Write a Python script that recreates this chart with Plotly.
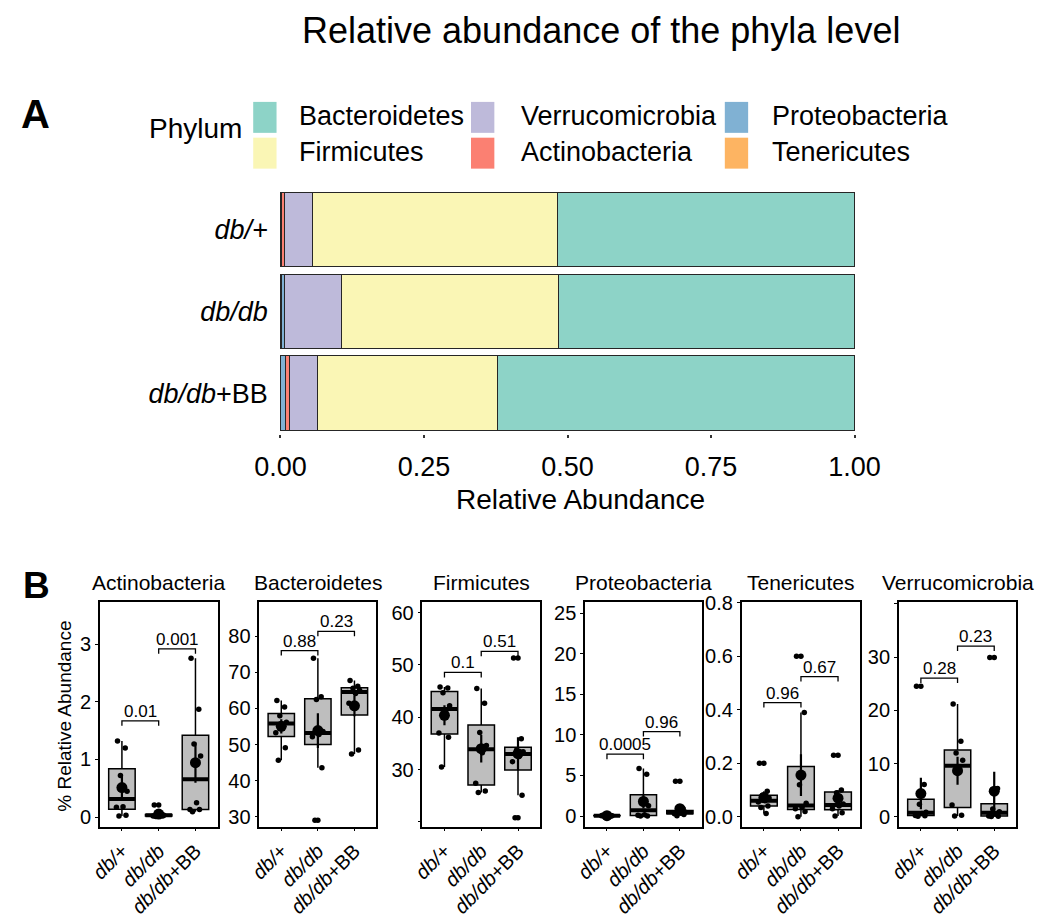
import numpy as np
import plotly.graph_objects as go

W, H = 1050, 918

# ---------------- panel A data ----------------
GROUPS = ["db/+", "db/db", "db/db+BB"]
GROUP_TEXT = ["<i>db/+</i>", "<i>db/db</i>", "<i>db/db</i>+BB"]

# mean relative abundance per group (stacked left -> right)
tenericutes = [0.0006, 0.0012, 0.0010]
proteobacteria = [0.0010, 0.0055, 0.0070]
actinobacteria = [0.0050, 0.0005, 0.0085]
verrucomicrobia = [0.0500, 0.0990, 0.0480]
firmicutes = [0.4260, 0.3780, 0.3130]
bacteroidetes = [0.5174, 0.5158, 0.6225]

STACK = [("Tenericutes", tenericutes), ("Proteobacteria", proteobacteria),
         ("Actinobacteria", actinobacteria), ("Verrucomicrobia", verrucomicrobia),
         ("Firmicutes", firmicutes), ("Bacteroidetes", bacteroidetes)]
LEGEND_ROWS = [["Bacteroidetes", "Verrucomicrobia", "Proteobacteria"],
               ["Firmicutes", "Actinobacteria", "Tenericutes"]]
COLORS = {"Bacteroidetes": "#8DD3C7", "Firmicutes": "#FAF6B5", "Verrucomicrobia": "#BEBADA",
          "Actinobacteria": "#FB8072", "Proteobacteria": "#80B1D3", "Tenericutes": "#FDB462"}
X_TICKS = [0, 0.25, 0.5, 0.75, 1.0]

# ---------------- panel B data (% relative abundance per mouse) ----------------
PANELS = ["Actinobacteria", "Bacteroidetes", "Firmicutes",
          "Proteobacteria", "Tenericutes", "Verrucomicrobia"]
actino_pct = [[1.32, 1.20, 0.72, 0.45, 0.18, 0.17, 0.03, 0.02],
              [0.21, 0.05, 0.04, 0.03, 0.03, 0.02, 0.02, 0.01],
              [2.76, 1.87, 1.27, 1.06, 0.25, 0.13, 0.13, 0.09]]
bactero_pct = [[62.2, 60.4, 58.0, 56.2, 55.4, 53.3, 49.1, 45.7],
               [73.9, 63.2, 62.5, 53.6, 52.8, 52.2, 43.6, 29.1],
               [67.7, 66.1, 65.6, 65.0, 64.1, 61.4, 48.5, 47.4]]
firmi_pct = [[45.8, 45.6, 44.7, 42.2, 41.0, 37.0, 36.2, 30.5],
             [45.5, 42.7, 37.1, 34.6, 33.2, 27.4, 25.9, 25.6],
             [51.35, 35.9, 33.71, 33.42, 32.5, 31.5, 25.1, 20.8]]
proteo_pct = [[0.10, 0.08, 0.06, 0.05, 0.04, 0.03, 0.02, 0.02],
              [5.87, 5.15, 1.79, 1.26, 0.16, 0.10, 0.02, 0.0],
              [4.30, 0.90, 0.60, 0.50, 0.35, 0.30, 0.20, 0.05]]
teneri_pct = [[0.20, 0.095, 0.08, 0.07, 0.06, 0.055, 0.04, 0.035, 0.012],
              [0.60, 0.39, 0.12, 0.05, 0.035, 0.03, 0.02, 0.0],
              [0.23, 0.10, 0.09, 0.048, 0.04, 0.03, 0.015, 0.003]]
verruco_pct = [[24.5, 6.05, 2.36, 0.86, 0.60, 0.25, 0.20, 0.10],
               [21.2, 14.2, 12.0, 10.6, 8.6, 2.2, 0.30, 0.12],
               [29.9, 5.33, 1.45, 0.96, 0.50, 0.15, 0.10, 0.05]]
PANEL_DATA = [actino_pct, bactero_pct, firmi_pct, proteo_pct, teneri_pct, verruco_pct]

P_VALUES = [("0.01", "0.001"), ("0.88", "0.23"), ("0.1", "0.51"),
            ("0.0005", "0.96"), ("0.96", "0.67"), ("0.28", "0.23")]

Y_TICKS = [[0, 1, 2, 3], [30, 40, 50, 60, 70, 80], [20, 30, 40, 50, 60],
           [0, 5, 10, 15, 20, 25], [0, 0.2, 0.4, 0.6, 0.8], [0, 10, 20, 30, 40]]
Y_TICKTEXT = [["0", "1", "2", "3"], ["30", "40", "50", "60", "70", "80"],
              ["", "30", "40", "50", "60"], ["0", "5", "10", "15", "20", "25"],
              ["0.0", "0.2", "0.4", "0.6", "0.8"], ["0", "10", "20", "30", ""]]

# ---------------- layout helpers ----------------
Y_RANGES = [[-0.168, 3.74], [27.3, 89.5], [19.07, 62.1],
            [-1.31, 26.4], [-0.0372, 0.8036], [-1.87, 40.4]]
BRACKET_Y = [(1.67, 2.92), (76.0, 81.3), (48.57, 52.6),
             (7.62, 10.4), (0.4265, 0.524), (26.06, 32.06)]
FRAMES_X = [(88.3, 209.3), (252.3, 372.7), (420, 541),
            (587.3, 707.3), (748.3, 870.3), (910, 1030.7)]
FRAME_Y = (611.7, 844.3)
JITTER = [-0.12, 0.09, -0.04, 0.14, 0.03, -0.15, 0.11, -0.08, 0.06]
FONT = "Liberation Sans, Arial, sans-serif"


def px(x):
    return x / W


def py(y):
    return 1 - y / H


def note(text, x, y, size, xanchor="center", **kw):
    return dict(text=text, x=px(x), y=py(y), xref="paper", yref="paper",
                xanchor=xanchor, yanchor="middle", showarrow=False,
                font=dict(size=size, color="black"), **kw)


fig = go.Figure()

# ---- panel A: stacked bars
for name, vals in STACK:
    fig.add_trace(go.Bar(
        y=GROUPS, x=vals, orientation="h", name=name, width=0.91,
        marker=dict(color=COLORS[name], line=dict(color="#262626", width=1)),
        showlegend=False, hoverinfo="x+name", xaxis="x", yaxis="y"))

annotations = []
shapes = []

# manual legend (big square keys like ggplot)
leg_cols = [(246, 291), (470, 519), (731, 777)]
leg_rows = [(95, 127), (132, 164)]
for r, row in enumerate(LEGEND_ROWS):
    for c, name in enumerate(row):
        x0 = leg_cols[c][0]
        y0, y1 = leg_rows[r]
        shapes.append(dict(type="rect", xref="paper", yref="paper",
                           x0=px(x0), x1=px(x0 + 24), y0=py(y1), y1=py(y0),
                           fillcolor=COLORS[name], line=dict(width=0)))
        annotations.append(note(name, leg_cols[c][1], (y0 + y1) / 2 - 1, 27, xanchor="left"))
annotations.append(note("Phylum", 187, 123, 28))
annotations.append(note("Relative abundance of the phyla level", 604, 21, 36))
annotations.append(note("<b>A</b>", 22, 108, 40))
annotations.append(note("<b>B</b>", 23, 595, 37))
annotations.append(note("Relative Abundance", 583, 506, 28))
annotations.append(note("% Relative Abundance", 52, 730, 19, textangle=-90))

layout_axes = {}
layout_axes["xaxis"] = dict(domain=[px(262), px(876)], range=[-0.0203, 1.0195], anchor="y",
                            tickvals=X_TICKS, ticktext=["%.2f" % v for v in X_TICKS],
                            ticks="outside", ticklen=3, tickwidth=2, tickcolor="#333",
                            ticklabelstandoff=6,
                            showline=False, showgrid=False, zeroline=False,
                            tickfont=dict(size=27, color="black"))
layout_axes["yaxis"] = dict(domain=[py(438), py(180)], anchor="x", type="category",
                            categoryorder="array", categoryarray=GROUPS,
                            tickvals=GROUPS, ticktext=GROUP_TEXT, range=[2.497, -0.556],
                            ticks="", showline=False, showgrid=False, zeroline=False,
                            tickfont=dict(size=27, color="black"))

# ---- panel B: box plots
for k, (title, groups) in enumerate(zip(PANELS, PANEL_DATA)):
    n = k + 2
    xa, ya = "x%d" % n, "y%d" % n
    pos = [1, 2, 3]
    q1s, meds, q3s, lfs, ufs, means, ses = [], [], [], [], [], [], []
    jx, jy, ox, oy = [], [], [], []
    for i, vals in enumerate(groups):
        v = np.array(vals, dtype=float)
        q1, med, q3 = np.percentile(v, [25, 50, 75])
        iqr = q3 - q1
        inside = v[(v >= q1 - 1.5 * iqr) & (v <= q3 + 1.5 * iqr)]
        q1s.append(q1); meds.append(med); q3s.append(q3)
        lfs.append(inside.min()); ufs.append(inside.max())
        means.append(v.mean()); ses.append(v.std(ddof=1) / np.sqrt(len(v)))
        for j, val in enumerate(vals):
            jx.append(pos[i] + JITTER[j % len(JITTER)]); jy.append(val)
            if val < q1 - 1.5 * iqr or val > q3 + 1.5 * iqr:
                ox.append(pos[i]); oy.append(val)

    fig.add_trace(go.Box(x=pos, q1=q1s, median=meds, q3=q3s, lowerfence=lfs, upperfence=ufs,
                         width=0.72, whiskerwidth=0, fillcolor="#BEBEBE",
                         line=dict(color="black", width=1.5), boxpoints=False,
                         showlegend=False, hoverinfo="skip", xaxis=xa, yaxis=ya))
    mx, my = [], []
    for p, m in zip(pos, meds):
        mx += [p - 0.36, p + 0.36, None]; my += [m, m, None]
    fig.add_trace(go.Scatter(x=mx, y=my, mode="lines", line=dict(color="black", width=4),
                             showlegend=False, hoverinfo="skip", xaxis=xa, yaxis=ya))
    fig.add_trace(go.Scatter(x=ox + jx, y=oy + jy, mode="markers",
                             marker=dict(size=5.5, color="black"),
                             showlegend=False, xaxis=xa, yaxis=ya))
    fig.add_trace(go.Scatter(x=pos, y=means, mode="markers",
                             marker=dict(size=11, color="black"),
                             error_y=dict(type="data", array=ses, width=0, thickness=2.2,
                                          color="black"),
                             showlegend=False, xaxis=xa, yaxis=ya))

    # significance brackets
    span = Y_RANGES[k][1] - Y_RANGES[k][0]
    tick = 0.022 * span
    for (a, b), yb, lab in zip([(1, 2), (2, 3)], BRACKET_Y[k], P_VALUES[k]):
        fig.add_trace(go.Scatter(x=[a, a, b, b], y=[yb - tick, yb, yb, yb - tick],
                                 mode="lines", line=dict(color="black", width=1.3),
                                 showlegend=False, hoverinfo="skip", xaxis=xa, yaxis=ya))
        annotations.append(dict(text=lab, x=(a + b) / 2, y=yb, xref=xa, yref=ya,
                                xanchor="center", yanchor="bottom", showarrow=False,
                                yshift=-2, font=dict(size=17, color="black")))

    fx0, fx1 = FRAMES_X[k]
    annotations.append(note(title, (fx0 + fx1) / 2, 592, 21))
    layout_axes["xaxis%d" % n] = dict(
        domain=[px(fx0), px(fx1)], range=[0.4, 3.6], anchor=ya,
        tickvals=pos, ticktext=GROUP_TEXT, tickangle=-45,
        ticks="outside", ticklen=3, tickwidth=1.2, tickcolor="black",
        showline=True, mirror=True, linecolor="black", linewidth=1.5,
        showgrid=False, zeroline=False, tickfont=dict(size=20, color="black"))
    layout_axes["yaxis%d" % n] = dict(
        domain=[py(FRAME_Y[1]), py(FRAME_Y[0])], range=Y_RANGES[k], anchor=xa,
        tickvals=Y_TICKS[k], ticktext=Y_TICKTEXT[k],
        ticks="outside", ticklen=3, tickwidth=1.2, tickcolor="black",
        showline=True, mirror=True, linecolor="black", linewidth=1.5,
        showgrid=False, zeroline=False, tickfont=dict(size=20, color="black"))

fig.update_layout(
    width=W, height=H, margin=dict(l=0, r=0, t=0, b=0),
    barmode="stack", showlegend=False, hovermode=False,
    plot_bgcolor="white", paper_bgcolor="white",
    font=dict(family=FONT, color="black"),
    annotations=annotations, shapes=shapes,
    **layout_axes)

fig.write_html("out.html", config={"displayModeBar": False},
               post_script="document.body.style.margin='0px';")
